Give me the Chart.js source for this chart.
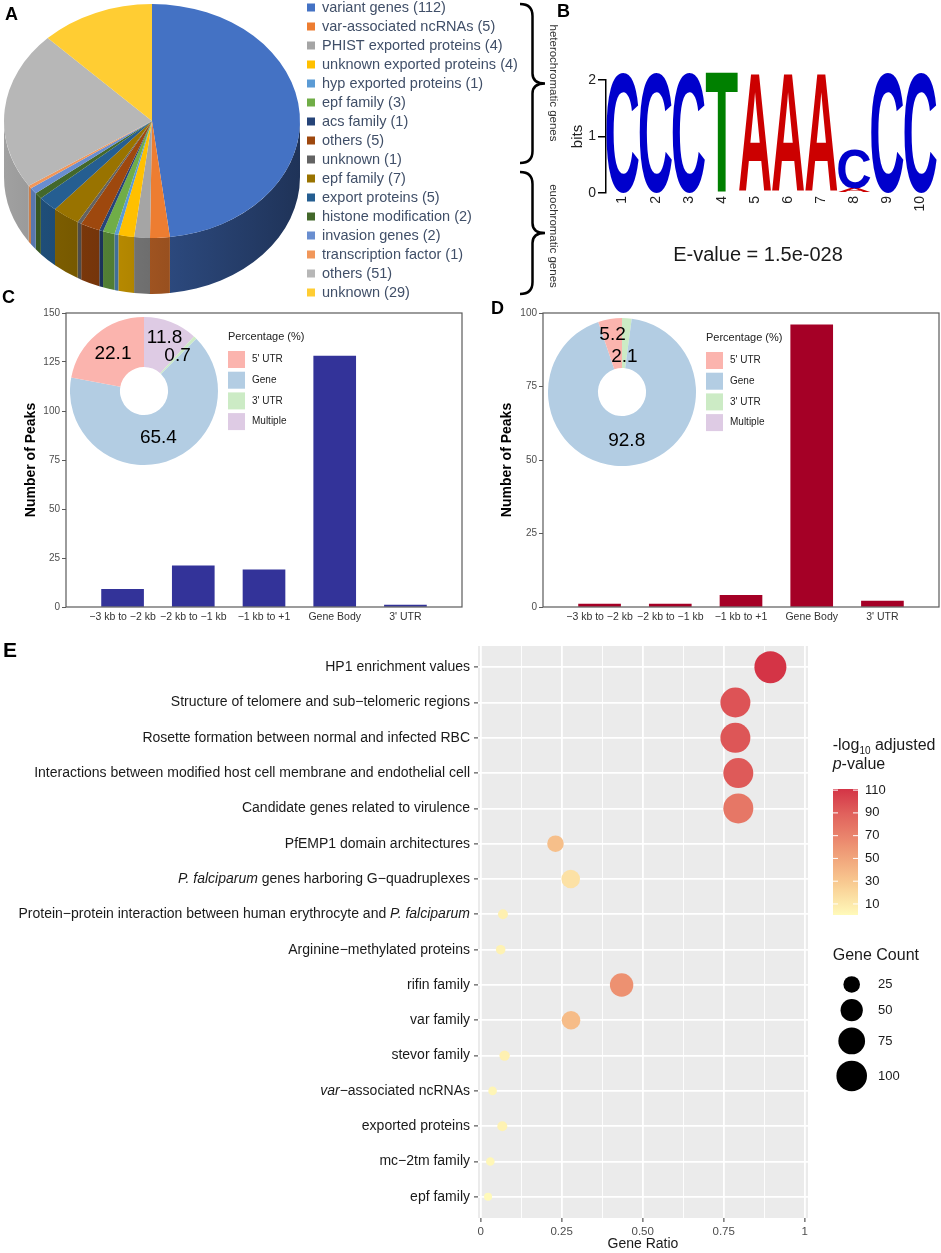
<!DOCTYPE html>
<html>
<head>
<meta charset="utf-8">
<script src="https://cdn.jsdelivr.net/npm/chart.js@4.4.1/dist/chart.umd.min.js"></script>
<style>
  body { margin: 0; background: #fff; width: 941px; height: 1253px; position: relative; overflow: hidden;
         font-family: "Liberation Sans", Arial, sans-serif; }
  canvas { position: absolute; }
  .tag { position: absolute; font-weight: bold; font-size: 18px; line-height: 18px; color: #000; }
</style>
</head>
<body>
<canvas id="pieA" width="560" height="300" style="left:0;top:0"></canvas>
<canvas id="logoB" width="381" height="300" style="left:560px;top:0"></canvas>
<canvas id="barC" width="470" height="330" style="left:0;top:300px"></canvas>
<canvas id="donutC" width="245" height="148" style="left:70px;top:317px"></canvas>
<canvas id="barD" width="471" height="330" style="left:470px;top:300px"></canvas>
<canvas id="donutD" width="245" height="148" style="left:548px;top:318px"></canvas>
<canvas id="dotE" width="941" height="623" style="left:0;top:630px"></canvas>

<div class="tag" style="left:5px;top:5px">A</div>
<div class="tag" style="left:557px;top:2px">B</div>
<div class="tag" style="left:2px;top:288px">C</div>
<div class="tag" style="left:491px;top:299px">D</div>
<div class="tag" style="left:3px;top:639px;font-size:21px;line-height:21px">E</div>

<script>
// --- Data ---

// A: gene classes (heterochromatic first 9, euchromatic last 7)
const pieNames = [
  "variant genes", "var-associated ncRNAs", "PHIST exported proteins", "unknown exported proteins",
  "hyp exported proteins", "epf family", "acs family", "others", "unknown",
  "epf family", "export proteins", "histone modification", "invasion genes",
  "transcription factor", "others", "unknown"
];
const pieValues = [112, 5, 4, 4, 1, 3, 1, 5, 1, 7, 5, 2, 2, 1, 51, 29];
const pieColors = [
  "#4472C4", "#ED7D31", "#A5A5A5", "#FFC000", "#5B9BD5", "#70AD47", "#264478", "#9E480E",
  "#636363", "#997300", "#255E91", "#43682B", "#698ED0", "#F1975A", "#B7B7B7", "#FFCD33"
];

// B: motif logo, bits per position
const logoPositions = ["1", "2", "3", "4", "5", "6", "7", "8", "9", "10"];
const bitsA = [0, 0, 0, 0, 2.1, 2.1, 2.1, 0.07, 0, 0];
const bitsC = [2.13, 2.13, 2.13, 0, 0, 0, 0, 0.7, 2.13, 2.13];
const bitsT = [0, 0, 0, 2.14, 0, 0, 0, 0, 0, 0];

// C / D: peak counts per region
const peakRegions = ["\u22123 kb to \u22122 kb", "\u22122 kb to \u22121 kb", "\u22121 kb to +1", "Gene Body", "3' UTR"];
const peaksC = [9, 21, 19, 128, 1];
const peaksD = [1, 1, 4, 96, 2];
const annotLabels = ["5' UTR", "Gene", "3' UTR", "Multiple"];
const annotC = [22.1, 65.4, 0.7, 11.8];
const annotD = [5.2, 92.8, 2.1, 0];

// E: enrichment terms
const termLabels = [
  "HP1 enrichment values",
  "Structure of telomere and sub\u2212telomeric regions",
  "Rosette formation between normal and infected RBC",
  "Interactions between modified host cell membrane and endothelial cell",
  "Candidate genes related to virulence",
  "PfEMP1 domain architectures",
  "*P. falciparum* genes harboring G\u2212quadruplexes",
  "Protein\u2212protein interaction between human erythrocyte and *P. falciparum*",
  "Arginine\u2212methylated proteins",
  "rifin family",
  "var family",
  "stevor family",
  "*var*\u2212associated ncRNAs",
  "exported proteins",
  "mc\u22122tm family",
  "epf family"
];
const geneRatio = [0.894, 0.786, 0.786, 0.795, 0.795, 0.231, 0.278, 0.069, 0.062, 0.435, 0.279, 0.074, 0.037, 0.067, 0.030, 0.023];
const geneCount = [110, 96, 96, 96, 96, 25, 33, 5, 4, 56, 33, 6, 2, 5, 2, 1];
const negLogP = [111, 96, 95, 93, 77, 35, 15, 6, 5, 62, 37, 6, 3, 5, 2, 0.3];
const ratioTicks = [0, 0.25, 0.5, 0.75, 1];
const ratioTickLabels = ["0", "0.25", "0.50", "0.75", "1"];
const pBreaks = [10, 30, 50, 70, 90, 110];
const countBreaks = [25, 50, 75, 100];

// --- Styles ---
const FONT = '"Liberation Sans", Arial, sans-serif';
const annotColors = ["#FBB4AE", "#B3CDE3", "#CCEBC5", "#DECBE4"];
const letterColors = { A: "#CC0000", C: "#0000CC", T: "#008000" };
const pStops = [[0, [255, 250, 186]], [30, [248, 200, 143]], [60, [238, 148, 115]], [90, [224, 96, 92]], [111, [212, 52, 70]]];

Chart.defaults.font.family = FONT;
Chart.defaults.animation = false;
Chart.defaults.responsive = false;
Chart.defaults.events = [];
Chart.defaults.color = "#4d4d4d";
Chart.defaults.plugins.legend.display = false;
Chart.defaults.plugins.tooltip.enabled = false;

function shade(hex, f) {
  const n = parseInt(hex.slice(1), 16);
  return `rgb(${Math.round(((n >> 16) & 255) * f)},${Math.round(((n >> 8) & 255) * f)},${Math.round((n & 255) * f)})`;
}

function pColor(v) {
  for (let i = 1; i < pStops.length; i++) {
    const [v0, c0] = pStops[i - 1], [v1, c1] = pStops[i];
    if (v <= v1 || i === pStops.length - 1) {
      const t = Math.max(0, Math.min(1, (v - v0) / (v1 - v0)));
      const c = c0.map((c, k) => Math.round(c + (c1[k] - c) * t));
      return `rgb(${c[0]},${c[1]},${c[2]})`;
    }
  }
}

// area grows linearly with gene count (like ggplot scale_size)
function sizeScale(count) {
  return Math.sqrt(13.8 + 2.2 * count);
}

// --- A: tilted pie with a side wall ---
const PIE_FACE_Y = 121, PIE_TILT = 0.79, PIE_DEPTH = 56;

const pie3d = {
  id: "pie3d",
  beforeDatasetsDraw(chart) {
    const ctx = chart.ctx;
    const arcs = chart.getDatasetMeta(0).data;
    const cx = arcs[0].x, cy = arcs[0].y, r = arcs[0].outerRadius;
    ctx.save();
    ctx.translate(0, PIE_FACE_Y);
    ctx.scale(1, PIE_TILT);
    ctx.translate(0, -cy);
    const d = PIE_DEPTH / PIE_TILT;
    arcs.forEach((arc, i) => {
      const a0 = Math.max(arc.startAngle, 0), a1 = Math.min(arc.endAngle, Math.PI);
      if (a1 <= a0) return;
      const g = ctx.createLinearGradient(cx - r, 0, cx + r, 0);
      g.addColorStop(0, shade(pieColors[i], 0.88));
      g.addColorStop(1, shade(pieColors[i], 0.45));
      ctx.beginPath();
      ctx.arc(cx, cy, r, a0, a1);
      ctx.lineTo(cx + r * Math.cos(a1), cy + d + r * Math.sin(a1));
      ctx.arc(cx, cy + d, r, a1, a0, true);
      ctx.closePath();
      ctx.fillStyle = g;
      ctx.fill();
    });
  },
  afterDatasetsDraw(chart) {
    chart.ctx.restore();
  }
};

function drawBrace(ctx, x0, y0, y1, tipX) {
  const xs = x0 + (tipX - x0) * 0.5, mid = (y0 + y1) / 2;
  ctx.beginPath();
  ctx.moveTo(x0, y0);
  ctx.quadraticCurveTo(xs, y0, xs, y0 + 12);
  ctx.lineTo(xs, mid - 10);
  ctx.quadraticCurveTo(xs, mid, tipX, mid);
  ctx.quadraticCurveTo(xs, mid, xs, mid + 10);
  ctx.lineTo(xs, y1 - 12);
  ctx.quadraticCurveTo(xs, y1, x0, y1);
  ctx.stroke();
}

const pieLegend = {
  id: "pieLegend",
  afterDraw(chart) {
    const ctx = chart.ctx;
    ctx.save();
    ctx.font = `14.5px ${FONT}`;
    ctx.textBaseline = "middle";
    pieNames.forEach((name, i) => {
      const y = 7.5 + i * 19;
      ctx.fillStyle = pieColors[i];
      ctx.fillRect(307, y - 4, 8, 8);
      ctx.fillStyle = "#404f68";
      ctx.fillText(`${name} (${pieValues[i]})`, 322, y);
    });
    ctx.strokeStyle = "#000";
    ctx.lineWidth = 2.5;
    drawBrace(ctx, 520, 4, 163, 545);
    drawBrace(ctx, 520, 172, 294, 545);
    ctx.fillStyle = "#333";
    ctx.font = `11.5px ${FONT}`;
    ctx.textAlign = "center";
    [["heterochromatic genes", 83], ["euochromatic genes", 236]].forEach(([t, y]) => {
      ctx.save();
      ctx.translate(553, y);
      ctx.rotate(Math.PI / 2);
      ctx.fillText(t, 0, 0);
      ctx.restore();
    });
    ctx.restore();
  }
};

new Chart(document.getElementById("pieA"), {
  type: "pie",
  data: {
    labels: pieNames,
    datasets: [{ data: pieValues, backgroundColor: pieColors, borderWidth: 0, clip: false }]
  },
  options: { layout: { padding: { left: 4, right: 260, top: 2, bottom: 2 } } },
  plugins: [pie3d, pieLegend]
});

// --- B: sequence logo (stacked bars drawn as stretched letters) ---
function drawGlyph(ctx, ch, color, left, top, w, h) {
  ctx.save();
  ctx.font = `bold 200px ${FONT}`;
  const m = ctx.measureText(ch);
  const gw = m.actualBoundingBoxLeft + m.actualBoundingBoxRight;
  const gh = m.actualBoundingBoxAscent + m.actualBoundingBoxDescent;
  ctx.translate(left, top);
  ctx.scale(w / gw, h / gh);
  ctx.fillStyle = color;
  ctx.textAlign = "left";
  ctx.textBaseline = "alphabetic";
  ctx.fillText(ch, m.actualBoundingBoxLeft, m.actualBoundingBoxAscent);
  ctx.restore();
}

const logoLetters = {
  id: "logoLetters",
  afterDatasetsDraw(chart) {
    const ctx = chart.ctx;
    chart.data.datasets.forEach((ds, di) => {
      chart.getDatasetMeta(di).data.forEach((bar, j) => {
        if (!ds.data[j]) return;
        const { x, y, base, width } = bar.getProps(["x", "y", "base", "width"], true);
        const w = width * 0.97;
        drawGlyph(ctx, ds.label, letterColors[ds.label], x - w / 2, Math.min(y, base), w, Math.abs(base - y));
      });
    });
  },
  afterDraw(chart) {
    const ctx = chart.ctx;
    ctx.save();
    ctx.font = `20px ${FONT}`;
    ctx.fillStyle = "#1a1a1a";
    ctx.textAlign = "center";
    ctx.textBaseline = "middle";
    ctx.fillText("E-value = 1.5e-028", 198, 255);
    ctx.restore();
  }
};

new Chart(document.getElementById("logoB"), {
  type: "bar",
  data: {
    labels: logoPositions,
    datasets: [
      { label: "A", data: bitsA },
      { label: "C", data: bitsC },
      { label: "T", data: bitsT }
    ].map(d => ({ ...d, backgroundColor: "rgba(0,0,0,0)", categoryPercentage: 1, barPercentage: 1, clip: false }))
  },
  options: {
    layout: { padding: { top: 80, right: 4 } },
    scales: {
      x: {
        stacked: true,
        grid: { display: false, drawTicks: false },
        border: { display: false },
        ticks: { minRotation: 90, maxRotation: 90, padding: 3, color: "#222", font: { size: 14 } },
        afterFit: s => { s.height = 107; }
      },
      y: {
        stacked: true, min: 0, max: 2,
        ticks: { stepSize: 1, padding: 2, color: "#222", font: { size: 14 } },
        grid: { drawOnChartArea: false, tickLength: 8, color: "#000", lineWidth: 1.5 },
        border: { display: true, color: "#000", width: 1.5 },
        title: { display: true, text: "bits", color: "#222", font: { size: 15 }, padding: { top: 9 } },
        afterFit: s => { s.width = 46; }
      }
    }
  },
  plugins: [logoLetters]
});

// --- C / D: bar charts with donut insets ---
const frame = {
  id: "frame",
  afterDraw(chart) {
    const { ctx, chartArea: a } = chart;
    ctx.save();
    ctx.strokeStyle = "#5a5a5a";
    ctx.lineWidth = 1.2;
    ctx.strokeRect(a.left, a.top, a.width, a.height);
    ctx.restore();
  }
};

function peakChart(id, values, color, yMax, yWidth, padRight, titlePad) {
  new Chart(document.getElementById(id), {
    type: "bar",
    data: { datasets: [{ data: values.map((v, i) => ({ x: i + 1, y: v })), backgroundColor: color, barThickness: 42 }] },
    options: {
      layout: { padding: { top: 13, right: padRight } },
      scales: {
        x: {
          type: "linear", min: 0.2, max: 5.8, offset: false,
          grid: { display: false, drawTicks: false },
          border: { display: false },
          afterBuildTicks: s => { s.ticks = peakRegions.map((_, i) => ({ value: i + 1 })); },
          ticks: { autoSkip: false, maxRotation: 0, padding: 4, color: "#333", font: { size: 10.5 },
                   callback: v => peakRegions[v - 1] },
          afterFit: s => { s.height = 23; }
        },
        y: {
          min: 0, max: yMax,
          ticks: { stepSize: 25, padding: 2, color: "#4d4d4d", font: { size: 10 } },
          grid: { drawOnChartArea: false, tickLength: 4, color: "#5a5a5a" },
          border: { display: false },
          title: { display: true, text: "Number of Peaks", color: "#000", font: { size: 14, weight: "bold" }, padding: { top: titlePad } },
          afterFit: s => { s.width = yWidth; }
        }
      }
    },
    plugins: [frame]
  });
}

function donutChart(id, values, labelRadii) {
  const order = values.map((_, i) => values.length - 1 - i);
  const donutText = {
    id: "donutText",
    afterDraw(chart) {
      const ctx = chart.ctx;
      ctx.save();
      ctx.fillStyle = "#000";
      ctx.font = `19px ${FONT}`;
      ctx.textAlign = "center";
      ctx.textBaseline = "middle";
      chart.getDatasetMeta(0).data.forEach((arc, j) => {
        const i = order[j];
        if (!values[i]) return;
        const mid = (arc.startAngle + arc.endAngle) / 2;
        ctx.fillText(values[i].toFixed(1), arc.x + labelRadii[i] * Math.cos(mid), arc.y + labelRadii[i] * Math.sin(mid));
      });
      ctx.textAlign = "left";
      ctx.fillStyle = "#222";
      ctx.font = `11px ${FONT}`;
      ctx.fillText("Percentage (%)", 158, 20);
      ctx.font = `10px ${FONT}`;
      annotLabels.forEach((lab, i) => {
        const y = 34 + i * 20.7;
        ctx.fillStyle = annotColors[i];
        ctx.fillRect(158, y, 17, 17);
        ctx.fillStyle = "#222";
        ctx.fillText(lab, 182, y + 8.5);
      });
      ctx.restore();
    }
  };
  new Chart(document.getElementById(id), {
    type: "doughnut",
    data: {
      labels: order.map(i => annotLabels[i]),
      datasets: [{ data: order.map(i => values[i]), backgroundColor: order.map(i => annotColors[i]), borderWidth: 0, clip: false }]
    },
    options: { cutout: "32.5%", layout: { padding: { right: 97 } } },
    plugins: [donutText]
  });
}

peakChart("barC", peaksC, "#333399", 150, 66, 8, 23);
peakChart("barD", peaksD, "#A50026", 100, 73, 2, 29);
donutChart("donutC", annotC, [48.5, 48.5, 48.5, 57]);
donutChart("donutD", annotD, [58, 48.5, 35.5, 0]);

// --- E: enrichment dot plot ---
function drawRich(ctx, text, right, y, size) {
  const parts = text.split("*").map((t, k) => ({ t, it: k % 2 === 1 })).filter(p => p.t);
  const fontOf = p => `${p.it ? "italic " : ""}${size}px ${FONT}`;
  let total = 0;
  parts.forEach(p => { ctx.font = fontOf(p); p.w = ctx.measureText(p.t).width; total += p.w; });
  let x = right - total;
  parts.forEach(p => { ctx.font = fontOf(p); ctx.fillText(p.t, x, y); x += p.w; });
}

const dotExtras = {
  id: "dotExtras",
  beforeDraw(chart) {
    const { ctx, chartArea: a } = chart;
    ctx.save();
    ctx.fillStyle = "#EBEBEB";
    ctx.fillRect(a.left, a.top, a.width, a.height);
    ctx.restore();
  },
  afterDraw(chart) {
    const ctx = chart.ctx;
    const yScale = chart.scales.y;
    ctx.save();
    ctx.fillStyle = "#1a1a1a";
    ctx.textAlign = "left";
    ctx.textBaseline = "middle";
    termLabels.forEach((t, i) => drawRich(ctx, t, 470, yScale.getPixelForValue(i + 1), 14));

    // colour legend
    ctx.textBaseline = "alphabetic";
    let x = 832.7;
    ctx.font = `16px ${FONT}`;
    ctx.fillText("-log", x, 120); x += ctx.measureText("-log").width;
    ctx.font = `10px ${FONT}`;
    ctx.fillText("10", x, 124); x += ctx.measureText("10").width;
    ctx.font = `16px ${FONT}`;
    ctx.fillText(" adjusted", x, 120);
    ctx.font = `italic 16px ${FONT}`;
    ctx.fillText("p", 832.7, 139);
    const pw = ctx.measureText("p").width;
    ctx.font = `16px ${FONT}`;
    ctx.fillText("-value", 832.7 + pw, 139);

    const barTop = 159, barBot = 285, barL = 833, barW = 25;
    const pMin = Math.min(...negLogP), pMax = Math.max(...negLogP);
    const py = v => barBot - (v - pMin) / (pMax - pMin) * (barBot - barTop);
    const g = ctx.createLinearGradient(0, barBot, 0, barTop);
    for (let k = 0; k <= 20; k++) {
      const v = pMin + (pMax - pMin) * k / 20;
      g.addColorStop(k / 20, pColor(v));
    }
    ctx.fillStyle = g;
    ctx.fillRect(barL, barTop, barW, barBot - barTop);
    ctx.strokeStyle = "#fff";
    ctx.lineWidth = 1;
    ctx.font = `13px ${FONT}`;
    ctx.fillStyle = "#1a1a1a";
    ctx.textBaseline = "middle";
    pBreaks.forEach(v => {
      const y = py(v);
      ctx.beginPath();
      ctx.moveTo(barL, y); ctx.lineTo(barL + 5, y);
      ctx.moveTo(barL + barW - 5, y); ctx.lineTo(barL + barW, y);
      ctx.stroke();
      ctx.fillText(String(v), 865, y);
    });

    // size legend
    ctx.textBaseline = "alphabetic";
    ctx.font = `16px ${FONT}`;
    ctx.fillText("Gene Count", 832.7, 330);
    ctx.textBaseline = "middle";
    ctx.font = `13px ${FONT}`;
    let prevH = 0, y = 343;
    countBreaks.forEach((c, k) => {
      const r = sizeScale(c), h = 2 * r + 6.3;
      y += k === 0 ? h / 2 : (prevH + h) / 2;
      prevH = h;
      ctx.fillStyle = "#000";
      ctx.beginPath();
      ctx.arc(851.7, y, r, 0, Math.PI * 2);
      ctx.fill();
      ctx.fillStyle = "#1a1a1a";
      ctx.fillText(String(c), 878, y);
    });
    ctx.restore();
  }
};

const ratioGrid = [];
ratioTicks.forEach((v, i) => {
  ratioGrid.push(v);
  if (i < ratioTicks.length - 1) ratioGrid.push((v + ratioTicks[i + 1]) / 2);
});

new Chart(document.getElementById("dotE"), {
  type: "bubble",
  data: {
    datasets: [{
      data: termLabels.map((_, i) => ({ x: geneRatio[i], y: i + 1, r: sizeScale(geneCount[i]) })),
      backgroundColor: negLogP.map(pColor),
      borderWidth: 0
    }]
  },
  options: {
    layout: { padding: { top: 8, right: 133 } },
    scales: {
      x: {
        type: "linear", min: -0.008, max: 1.01,
        afterBuildTicks: s => { s.ticks = ratioGrid.map(v => ({ value: v })); },
        ticks: { autoSkip: false, maxRotation: 0, padding: 3, color: "#4d4d4d", font: { size: 11.5 },
                 callback: (v, i) => (i % 2 === 0 ? ratioTickLabels[i / 2] : "") },
        grid: {
          color: "#fff",
          lineWidth: c => (c.index % 2 === 0 ? 1.8 : 0.9),
          tickColor: c => (c.index % 2 === 0 ? "#333" : "rgba(0,0,0,0)"),
          tickLength: 4, tickWidth: 1
        },
        border: { display: false },
        title: { display: true, text: "Gene Ratio", color: "#1a1a1a", font: { size: 14 }, padding: { top: 0, bottom: 0 } },
        afterFit: s => { s.height = 35; }
      },
      y: {
        type: "linear", reverse: true, min: 0.4, max: 16.6,
        afterBuildTicks: s => { s.ticks = termLabels.map((_, i) => ({ value: i + 1 })); },
        ticks: { callback: () => "" },
        grid: { color: "#fff", lineWidth: 1.8, tickColor: "#333", tickLength: 4, tickWidth: 1 },
        border: { display: false },
        afterFit: s => { s.width = 478; }
      }
    }
  },
  plugins: [dotExtras]
});
</script>
</body>
</html>
